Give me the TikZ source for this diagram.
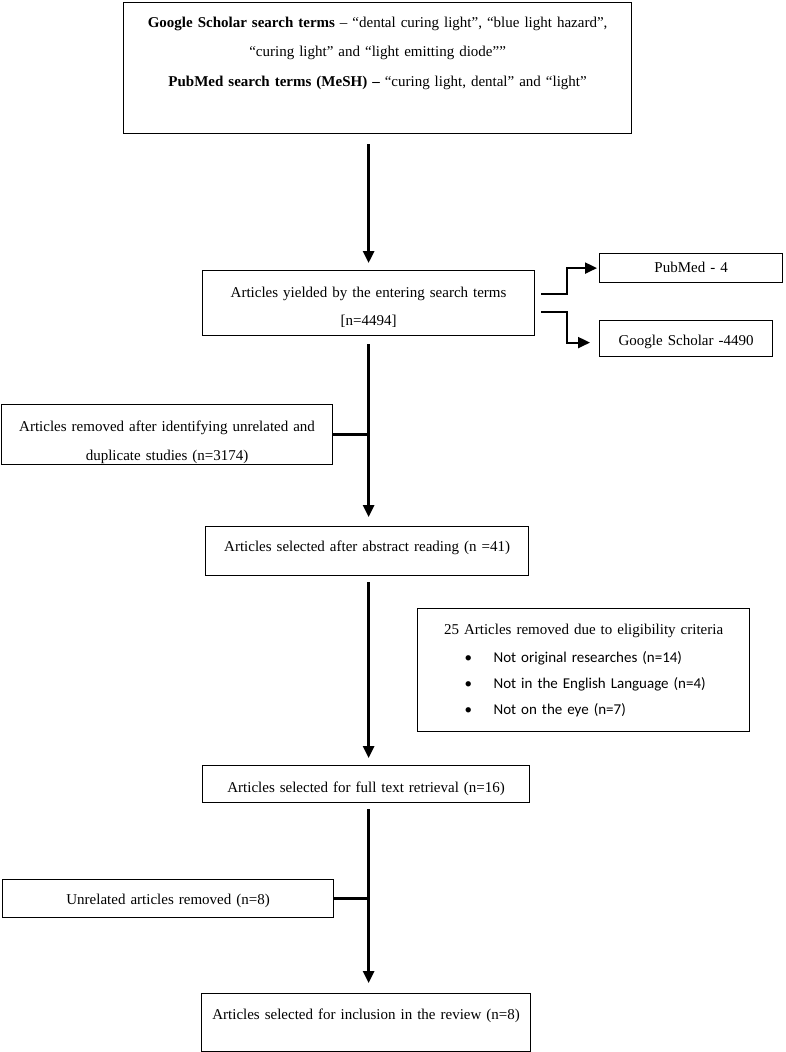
\documentclass[tikz,border=0pt]{standalone}
\usepackage{fontspec}
\setmainfont{Liberation Serif}
\setsansfont{Carlito}
\usetikzlibrary{arrows.meta,calc}

\begin{document}
\begin{tikzpicture}[x=1pt, y=-1pt, font=\fontsize{15}{22}\selectfont,
    box/.style={draw, line width=1.2pt, inner sep=0pt, anchor=north west, align=center},
    flow/.style={line width=2.6pt, -{Triangle[width=11pt,length=12pt]}},
    branch/.style={line width=2.6pt}]
  \useasboundingbox (0,0) rectangle (785,1052);
  \node[box, text width=508pt, text height=24.5pt, text depth=106.5pt,
    font=\fontsize{15}{29.5}\selectfont] (search) at (123,2)
    {\textbf{Google Scholar search terms} – “dental curing light”, “blue light hazard”,\\
     “curing light” and “light emitting diode””\\
     \textbf{PubMed search terms (MeSH) –} “curing light, dental” and “light”};
  \node[box, text width=332pt, text height=26.5pt, text depth=38.5pt,
    font=\fontsize{15}{28}\selectfont] (yield) at (202,270)
    {Articles yielded by the entering search terms\\ \mbox{[n=4494]}};
  \node[box, text width=183pt, text height=18.5pt, text depth=10.5pt] (pubmed) at (599,253)
    {PubMed - 4};
  \node[box, text width=173pt, text height=24.5pt, text depth=11.5pt] (google) at (599,320)
    {Google Scholar -4490};
  \node[box, text width=331pt, text height=26.5pt, text depth=33.5pt,
    font=\fontsize{15}{29}\selectfont] (removed) at (1,404)
    {Articles removed after identifying unrelated and\\ duplicate studies (n=3174)};
  \node[box, text width=323pt, text height=24.5pt, text depth=24.5pt] (abstract) at (205,526)
    {Articles selected after abstract reading (n =41)};
  \node[box, text width=332pt, text height=25.5pt, text depth=97.5pt,
    font=\fontsize{15}{26}\selectfont] (elig) at (417,608)
    {25 Articles removed due to eligibility criteria\\[2pt]
     \makebox[332pt][l]{\sffamily\hspace{47pt}\makebox[29pt][l]{•}Not original researches (n=14)}\\
     \makebox[332pt][l]{\sffamily\hspace{47pt}\makebox[29pt][l]{•}Not in the English Language (n=4)}\\
     \makebox[332pt][l]{\sffamily\hspace{47pt}\makebox[29pt][l]{•}Not on the eye (n=7)}};
  \node[box, text width=327pt, text height=26.5pt, text depth=10.5pt] (fulltext) at (202,765)
    {Articles selected for full text retrieval (n=16)};
  \node[box, text width=331pt, text height=24.5pt, text depth=13.5pt] (unrelated) at (2,879)
    {Unrelated articles removed (n=8)};
  \node[box, text width=329pt, text height=25.5pt, text depth=32.5pt] (final) at (201,993)
    {Articles selected for inclusion in the review (n=8)};
  % main flow
  \draw[flow, shorten <=10pt, shorten >=7pt] (search.south -| yield.north) -- (yield.north);
  \draw[flow, shorten <=8pt, shorten >=9pt] (yield.south) -- (yield.south |- abstract.north);
  \draw[branch] (removed.east) -- (removed.east -| yield.south);
  \draw[flow, shorten <=6pt, shorten >=7pt] (abstract.south -| yield.south) -- (yield.south |- fulltext.north);
  \draw[flow, shorten <=6pt, shorten >=10pt] (fulltext.south -| yield.south) -- (yield.south |- final.north);
  \draw[branch] (unrelated.east) -- (unrelated.east -| yield.south);
  % databases
  \draw[flow, line width=2.2pt, shorten >=2pt] ([shift={(6,-9)}]yield.east) -- ++(26,0) |- (pubmed.west);
  \draw[flow, line width=2.2pt, shorten >=9pt] ([shift={(6,9)}]yield.east) -- ++(26,0) |- ([yshift=-4pt]google.west);
\end{tikzpicture}
\end{document}
